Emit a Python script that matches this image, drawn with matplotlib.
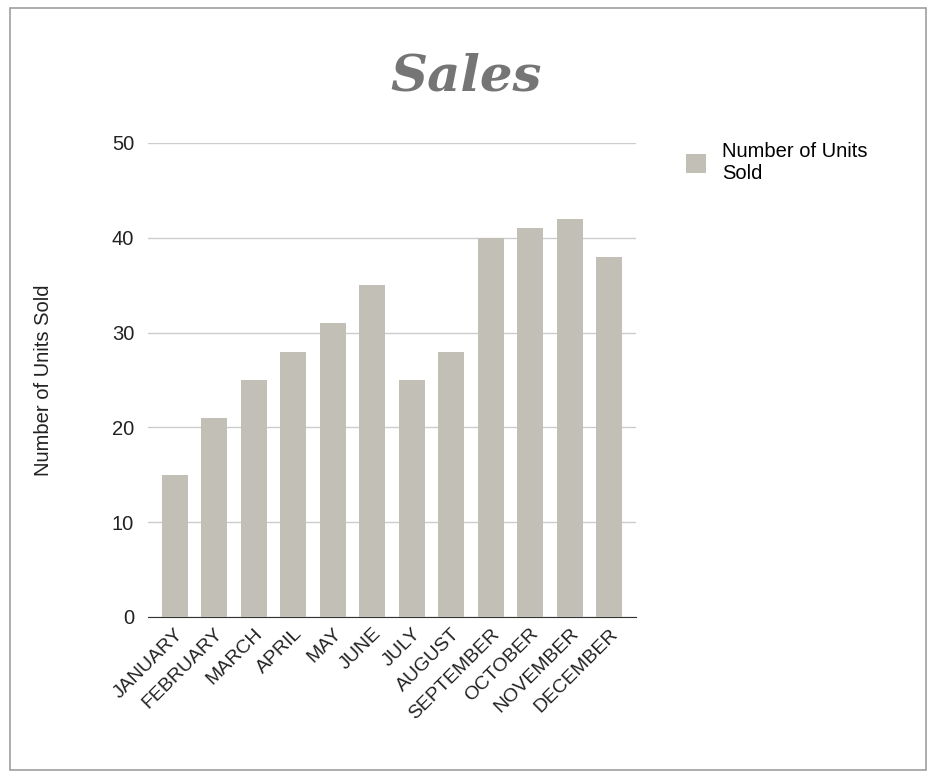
import matplotlib
matplotlib.use("Agg")
import matplotlib.pyplot as plt
from matplotlib.patches import Rectangle

months = ["JANUARY","FEBRUARY","MARCH","APRIL","MAY","JUNE","JULY","AUGUST",
          "SEPTEMBER","OCTOBER","NOVEMBER","DECEMBER"]
units = [15, 21, 25, 28, 31, 35, 25, 28, 40, 41, 42, 38]
yticks = [0, 10, 20, 30, 40, 50]

plt.rcParams['font.family'] = ['Liberation Sans', 'DejaVu Sans']
fig = plt.figure(figsize=(9.36, 7.78), dpi=100)
fig.patches.append(Rectangle((10/936, 8/778), 916/936, 762/778, transform=fig.transFigure,
                             fill=False, edgecolor='#9e9e9e', linewidth=1.2))
ax = fig.add_axes([148/936, 1-617/778, 488/936, 474/778])
x = list(range(len(months)))
ax.bar(x, units, width=0.66, color='#c2c0b6', label='Number of Units\nSold', zorder=3)
ax.set_xlim(-0.68, 11.68)
ax.set_ylim(0, 50)
ax.set_yticks(yticks)
ax.set_yticklabels([str(v) for v in yticks], fontsize=14.5, color='#222222')
ax.set_xticks(x)
ax.set_xticklabels(months, rotation=45, ha='right', rotation_mode='anchor', fontsize=14, color='#222222')
ax.grid(axis='y', color='#cccccc', linewidth=1, zorder=0)
for s in ['top', 'right', 'left']:
    ax.spines[s].set_visible(False)
ax.spines['bottom'].set_color('#333333')
ax.tick_params(axis='y', length=0, pad=10)
ax.tick_params(axis='x', length=0, pad=6)
ax.set_ylabel('Number of Units Sold', fontsize=14.5, color='#222222', labelpad=42)
fig.text(466/936, 1-77/778, 'Sales', ha='center', va='center', fontsize=37,
         fontweight='bold', fontstyle='italic', family='DejaVu Serif', color='#757575')
fig.legend(loc='upper left', bbox_to_anchor=(668/936, 1-124/778), frameon=False,
           fontsize=14.5, handlelength=1.0, handleheight=1.1, labelspacing=0,
           handletextpad=0.8)
fig.savefig('out.png', dpi=100)
